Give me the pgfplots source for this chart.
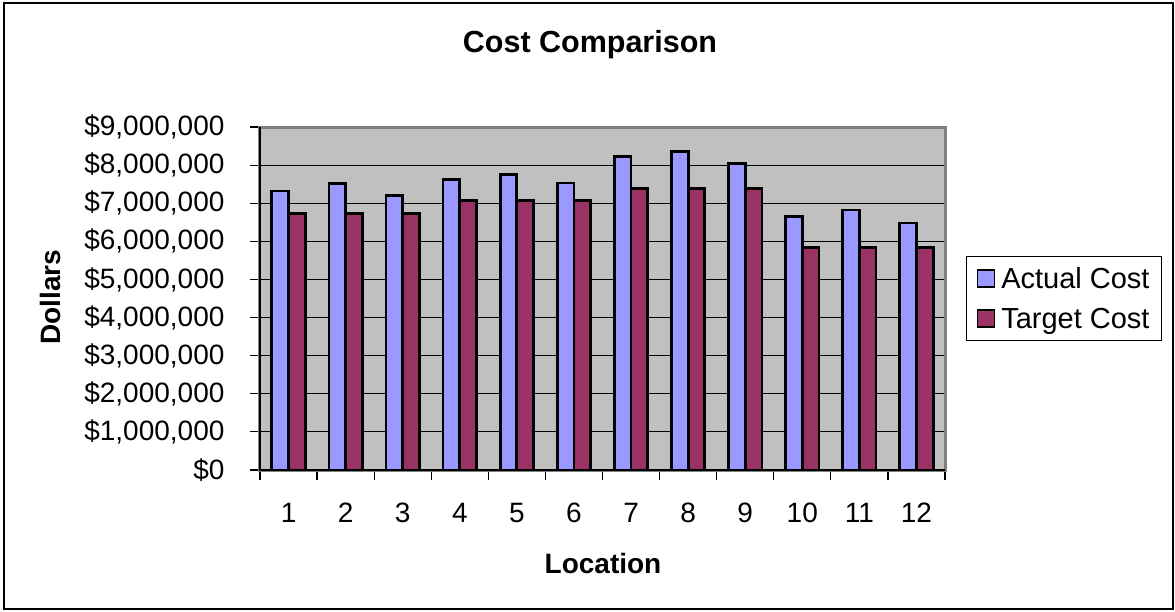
\documentclass[border=0pt]{standalone}
\usepackage{pgfplots}
\pgfplotsset{compat=1.18}
\usepackage{fontspec}
\setmainfont{Liberation Sans}
\definecolor{actual}{HTML}{9999FF}
\definecolor{target}{HTML}{993366}
\definecolor{plotbg}{HTML}{C0C0C0}
\begin{document}
\begin{tikzpicture}
\useasboundingbox (-260pt,-141pt) rectangle (915pt,470pt);
\draw[black, line width=1.2pt] (-256pt,-139pt) rectangle (913pt,467pt);
\begin{axis}[
    at={(0pt,0pt)}, anchor=south west,
    width=685pt, height=343pt, scale only axis,
    font=\fontsize{28}{34}\selectfont,
    /pgf/number format/assume math mode=true,
    ybar=0pt, bar width=16.7pt,
    xmin=0.5, xmax=12.5,
    ymin=0, ymax=9000000,
    xtick={1,...,12},
    minor xtick={0.5,1.5,...,12.5},
    major x tick style={draw=none},
    xtick pos=bottom, ytick pos=left,
    ytick={0,1000000,...,9000000},
    scaled y ticks=false,
    yticklabel={\$\pgfmathprintnumber[fixed,precision=0,1000 sep={,}]{\tick}},
    tick align=outside,
    major tick length=10pt, minor tick length=10pt,
    tick style={black, line width=1.2pt},
    xticklabel style={anchor=center, yshift=-33pt},
    yticklabel style={anchor=east, xshift=-22pt},
    ymajorgrids, major grid style={black, line width=1.2pt},
    axis line style={draw=gray, line width=3pt},
    axis background/.style={fill=plotbg},
    legend style={at={(1,0.5)}, anchor=west, xshift=21pt,
        draw=black, line width=1pt, inner xsep=10pt, inner ysep=9pt,
        row sep=14pt, column sep=4pt,
        font=\fontsize{29}{34}\selectfont, cells={anchor=west}},
    legend image code/.code={\draw[#1, line width=1.8pt] (0pt,-8.5pt) rectangle (17pt,8.5pt);},
    clip=false,
]
\addplot[fill=actual, draw=black, line width=2.8pt] coordinates {
    (1,7320000) (2,7520000) (3,7200000) (4,7630000) (5,7760000) (6,7530000)
    (7,8220000) (8,8350000) (9,8040000) (10,6660000) (11,6820000) (12,6480000)};
\addplot[fill=target, draw=black, line width=2.8pt] coordinates {
    (1,6720000) (2,6720000) (3,6720000) (4,7080000) (5,7080000) (6,7080000)
    (7,7380000) (8,7380000) (9,7380000) (10,5840000) (11,5840000) (12,5840000)};
\legend{Actual Cost, Target Cost}
\draw[black, line width=1.5pt] (rel axis cs:0,1) -- (rel axis cs:0,0) -- (rel axis cs:1,0);
\end{axis}
\node[font=\fontsize{30.5}{36}\selectfont\bfseries] at (330pt,425pt) {Cost Comparison};
\node[font=\fontsize{28}{34}\selectfont\bfseries] at (343pt,-93pt) {Location};
\node[font=\fontsize{28}{34}\selectfont\bfseries, rotate=90] at (-210pt,173pt) {Dollars};
\end{tikzpicture}
\end{document}
